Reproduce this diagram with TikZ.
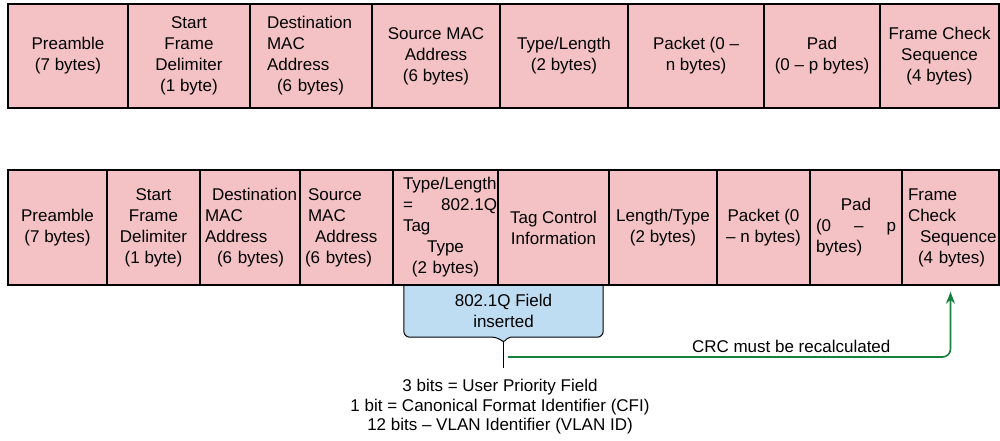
\documentclass[tikz,border=0pt]{standalone}
\usepackage{fontspec}
\setmainfont{Liberation Sans}
\usetikzlibrary{arrows.meta,backgrounds}

\definecolor{rosa}{RGB}{244,194,197}
\definecolor{hellblau}{RGB}{190,221,242}
\definecolor{gruen}{RGB}{22,128,62}

\hyphenpenalty=10000
\exhyphenpenalty=10000

\tikzset{
    feld/.style={draw, fill=rosa, line width=1.5pt, inner sep=0pt, align=center,
        font=\fontsize{17}{21}\selectfont},
    oben/.style={feld, minimum height=104pt},
    unten/.style={feld, minimum height=115pt},
    crcpfeil/.style={draw=gruen, line width=1.6pt, rounded corners=8pt,
        -{Stealth[length=12pt,width=9pt]}, shorten >=6pt}
}

\begin{document}
\begin{tikzpicture}[x=1pt, y=-1pt]
    \useasboundingbox (0,0) rectangle (1000,441);
    % Ethernet frame
    \path node[oben, minimum width=120pt] (P1) at (68,56) {Preamble\\(7 bytes)}
        node[oben, minimum width=122pt] (SFD1) at (189,56) {Start\\Frame\\Delimiter\\(1 byte)}
        node[oben, minimum width=122pt, text width=88pt, align=left] (DA1) at (311,56)
            {Destination\\MAC\\Address\\\hspace*{10pt}(6 bytes)}
        node[oben, minimum width=128pt] (SA1) at (436,56) {Source MAC\\Address\\(6 bytes)}
        node[oben, minimum width=128pt] (TL1) at (564,56) {Type/Length\\(2 bytes)}
        node[oben, minimum width=136pt] (PKT1) at (696,56) {Packet (0 –\\n bytes)}
        node[oben, minimum width=116pt] (PAD1) at (822,56) {Pad\\(0 – p bytes)}
        node[oben, minimum width=119pt] (FCS1) at (939.5,56) {Frame Check\\Sequence\\(4 bytes)};
    % tagged frame
    \path node[unten, minimum width=99pt] (P2) at (57.5,227.5) {Preamble\\(7 bytes)}
        node[unten, minimum width=93pt] (SFD2) at (153.5,227.5) {Start\\Frame\\Delimiter\\(1 byte)}
        node[unten, minimum width=100pt, text width=90pt, align=left] (DA2) at (250,227.5)
            {\hspace*{7pt}Destination\\MAC\\Address\\\hspace*{12pt}(6 bytes)}
        node[unten, minimum width=93pt, text width=83pt, align=left] (SA2) at (346.5,227.5)
            {\hspace*{3pt}Source\\\hspace*{3pt}MAC\\\hspace*{10pt}Address\\(6 bytes)}
        node[unten, minimum width=105pt, text width=103pt, align=left] (TPID) at (445.5,227.5)
            {\hspace*{9pt}Type/Length\\\hspace*{9pt}=\hfill 802.1Q\\\hspace*{9pt}Tag\\
             \hfill Type\hfill\null\\\hfill(2 bytes)\hfill\null}
        node[unten, minimum width=111pt] (TCI) at (553.5,227.5) {Tag Control\\Information}
        node[unten, minimum width=108pt] (LT2) at (663,227.5) {Length/Type\\(2 bytes)}
        node[unten, minimum width=93pt] (PKT2) at (763.5,227.5) {Packet (0\\– n bytes)}
        node[unten, minimum width=92pt, text width=80pt, align=left] (PAD2) at (856,227.5)
            {\hfill Pad\hfill\null\\(0\hfill–\hfill p\\bytes)}
        node[unten, minimum width=97pt, text width=85pt, align=left] (FCS2) at (950.5,227.5)
            {Frame\\Check\\\hspace*{12pt}Sequence\\\hspace*{10pt}(4 bytes)};
    % inserted field
    \node[minimum width=199pt, minimum height=52pt, inner sep=0pt, align=center,
        font=\fontsize{17}{21}\selectfont] (Q) at (503.5,311) {802.1Q Field\\inserted};
    \begin{scope}[on background layer]
        \filldraw[fill=hellblau, line width=1pt, rounded corners=6pt] (Q.north west) -- (Q.south west)
            -- ([xshift=-5pt]Q.south) [rounded corners=2pt] -- ([yshift=-5pt]Q.south)
            -- ([xshift=5pt]Q.south) [rounded corners=6pt] -- (Q.south east) -- (Q.north east);
    \end{scope}
    \coordinate (S) at (503.5,368);
    \draw[line width=1pt] ([yshift=-5pt]Q.south) -- (S);
    \coordinate (C) at (508,357);
    \draw[crcpfeil] (C) -| node[pos=0.32, above, inner sep=4pt, font=\fontsize{17}{21}\selectfont]
        {CRC must be recalculated} (FCS2);
    \node[align=center, font=\fontsize{17}{19.5}\selectfont] (BITS) at (500,407)
        {3 bits = User Priority Field\\1 bit = Canonical Format Identifier (CFI)\\12 bits – VLAN Identifier (VLAN ID)};
\end{tikzpicture}
\end{document}
